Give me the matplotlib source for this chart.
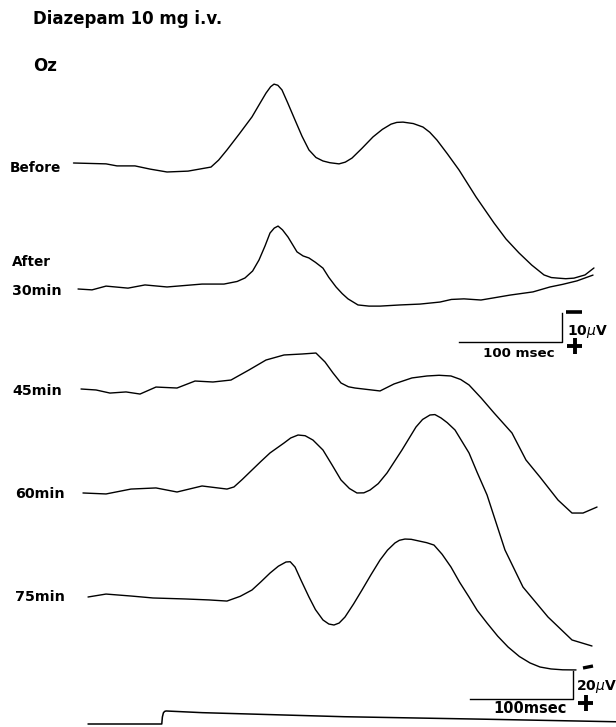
import matplotlib
matplotlib.use("Agg")
import matplotlib.pyplot as plt
from matplotlib.lines import Line2D
import numpy as np

# ---------------- data (time in ms from stimulus onset, amplitude in µV, negative up) -------------
before_t = [-86.9, -55.3, -44.7, -27.2, -12.6, 3.9, 24.3, 46.6, 54.0, 62.1, 74.0, 86.4, 94.0, 100.0, 104.5,
            107.8, 111.5, 115.5, 121.0, 128.2, 135.0, 141.7, 148.5, 155.3, 162.0, 170.9, 177.0, 183.5, 193.0,
            203.9, 213.0, 221.4, 227.0, 233.0, 243.0, 252.4, 259.0, 266.0, 276.0, 287.4, 303.9, 321.4, 333.0,
            345.6, 358.0, 369.9, 377.0, 383.5, 391.0, 399.0, 409.7, 418.4]
before_uv = [0.0, 0.3, 1.0, 1.0, 2.1, 3.1, 2.8, 1.4, -1.0, -4.5, -10.0, -15.9, -20.5, -24.1, -26.3,
             -27.2, -26.8, -25.2, -20.8, -14.8, -9.2, -4.5, -1.9, -0.7, -0.1, 0.3, -0.3, -1.7, -5.0,
             -9.0, -11.6, -13.4, -14.0, -14.1, -13.6, -12.4, -10.6, -7.9, -3.2, 2.4, 11.7, 20.7, 26.2,
             31.0, 35.2, 38.6, 39.5, 39.7, 39.9, 39.7, 38.6, 36.2]

after30_t = [-82.5, -68.9, -55.3, -34.0, -17.5, 3.9, 37.9, 59.2, 72.0, 79.6, 87.0, 93.2, 99.0, 103.9, 108.0,
             111.7, 116.0, 121.4, 130.1, 136.0, 141.7, 148.0, 155.3, 161.0, 168.0, 174.0, 179.6, 189.3, 200.0,
             210.7, 230.1, 249.5, 268.9, 280.0, 292.2, 308.7, 320.4, 336.9, 359.2, 375.7, 388.0, 401.9, 417.5]
after30_uv = [0.0, 0.3, -1.0, -0.3, -1.4, -0.7, -1.7, -1.7, -2.6, -3.8, -6.2, -10.0, -14.8, -19.3, -21.0,
              -21.7, -20.4, -17.9, -12.8, -11.4, -10.7, -9.2, -7.2, -4.0, -0.7, 1.6, 3.4, 5.5, 5.9,
              5.9, 5.5, 5.2, 4.5, 3.6, 3.4, 3.8, 3.1, 2.1, 1.0, -0.7, -1.6, -2.8, -4.8]

min45_t = [-79.6, -65.0, -51.5, -35.9, -22.3, -6.8, 13.6, 31.1, 48.5, 66.0, 83.5, 100.0, 117.5, 135.0,
           148.5, 157.3, 165.0, 172.8, 180.0, 186.4, 210.7, 224.3, 241.7, 256.3, 268.0, 279.6, 289.0, 297.1,
           309.0, 321.4, 338.8, 352.4, 366.0, 383.5, 397.1, 407.8, 421.4]
min45_uv = [0.0, 0.7, 2.9, 2.1, 3.6, -1.4, -0.7, -5.7, -5.0, -6.4, -13.6, -20.7, -24.3, -25.0,
            -25.7, -19.3, -11.5, -4.3, -1.6, -0.7, 1.4, -3.6, -7.9, -9.3, -9.8, -9.3, -6.8, -2.9,
            6.5, 17.1, 31.4, 50.7, 62.9, 79.3, 88.6, 88.6, 84.3]

min60_t = [-77.7, -55.3, -31.1, -6.8, 13.6, 37.9, 62.1, 68.9, 77.0, 86.4, 95.0, 103.9, 117.5, 124.0,
           131.1, 138.0, 145.6, 155.3, 164.0, 172.8, 181.0, 188.3, 195.0, 201.0, 209.0, 217.5, 232.0,
           245.6, 252.0, 259.2, 264.0, 269.9, 276.0, 283.5, 297.1, 305.0, 314.6, 332.0, 349.5, 373.8,
           397.1, 416.5]
min60_uv = [0.7, 1.4, -2.1, -2.9, 0.0, -4.3, -2.1, -3.6, -9.0, -15.7, -21.8, -27.9, -35.0, -38.6,
            -40.7, -40.2, -37.1, -30.0, -19.5, -8.6, -2.5, 0.7, 0.6, -1.4, -6.0, -13.6, -30.0,
            -46.4, -51.8, -55.0, -55.3, -52.9, -49.5, -44.3, -27.9, -14.0, 2.1, 41.4, 67.9, 89.3,
            105.7, 110.0]

min75_t = [-72.8, -55.3, -31.1, -9.7, 21.4, 44.7, 62.1, 75.0, 86.4, 95.0, 103.9, 112.0, 119.4, 123.5,
           128.2, 134.0, 141.7, 148.0, 155.3, 161.0, 166.0, 171.0, 176.7, 185.0, 193.2, 202.0, 210.7,
           218.0, 225.2, 229.5, 234.9, 241.0, 248.5, 256.0, 263.1, 271.0, 279.6, 288.0, 297.1, 305.0,
           314.6, 325.0, 335.0, 346.0, 356.3, 366.0, 376.7, 388.0, 401.0]
min75_uv = [0.0, -2.1, -0.7, 0.7, 1.4, 2.1, 2.9, -0.5, -5.0, -10.8, -17.1, -22.0, -25.0, -25.2,
            -21.4, -12.0, 0.0, 9.0, 16.4, 19.3, 20.0, 18.6, 14.3, 5.0, -5.0, -16.0, -26.4,
            -33.5, -38.6, -40.5, -41.4, -41.2, -40.0, -38.8, -37.1, -30.5, -21.4, -10.5, 0.0, 9.5,
            18.6, 28.0, 35.7, 42.5, 47.1, 50.0, 51.4, 52.0, 52.1]

stim_t = [-72.8, -1.2, -0.6, 0.4, 1.6, 3.0, 38.0, 176.0, 314.0, 439.8]
stim_uv = [0.0, 0.0, -5.0, -8.0, -9.0, -9.3, -8.1, -5.2, -3.4, -1.6]

trace_labels = ["Before", "30min", "45min", "60min", "75min"]
title_text = "Diazepam 10 mg i.v."
site_text = "Oz"

# ---------------- layout ----------------
W, H = 616, 727
MS_PX = 1.03      # pixels per ms
ONSET_X = 163     # pixel column of stimulus onset
GAIN_A = 2.9      # pixels per µV (10 µV calibration)
GAIN_B = 1.4      # pixels per µV (20 µV calibration)

fig = plt.figure(figsize=(W / 100, H / 100), dpi=100)
fig.patch.set_facecolor("white")


def make_ax(gain):
    ax = fig.add_axes([0, 0, 1, 1])
    ax.set_xlim(-ONSET_X / MS_PX, (W - ONSET_X) / MS_PX)
    ax.set_ylim(H / gain, 0)
    ax.axis("off")
    ax.patch.set_visible(False)
    return ax


ax_a = make_ax(GAIN_A)
ax_b = make_ax(GAIN_B)

LW = 1.0
col = "black"


def draw(ax, t, v, row, gain, lw=LW):
    ax.plot(t, np.asarray(v) + row / gain, color=col, lw=lw, solid_capstyle="round",
            solid_joinstyle="round")


draw(ax_a, before_t, before_uv, 163, GAIN_A)
draw(ax_a, after30_t, after30_uv, 289, GAIN_A)
draw(ax_b, min45_t, min45_uv, 389, GAIN_B)
draw(ax_b, min60_t, min60_uv, 492, GAIN_B)
draw(ax_b, min75_t, min75_uv, 597, GAIN_B)
draw(ax_b, stim_t, stim_uv, 724, GAIN_B, lw=1.1)

# calibration bars
cx_a = (562 - ONSET_X) / MS_PX
cy_a = 342 / GAIN_A
ax_a.plot([cx_a - 100, cx_a, cx_a], [cy_a, cy_a, cy_a - 10], color=col, lw=1.0)
cx_b = (573 - ONSET_X) / MS_PX
cy_b = 699 / GAIN_B
ax_b.plot([cx_b - 100, cx_b, cx_b], [cy_b, cy_b, cy_b - 20], color=col, lw=1.0)


def fx(x):
    return x / W


def fy(y):
    return 1 - y / H


def seg(x0, y0, x1, y1, lw):
    fig.add_artist(Line2D([fx(x0), fx(x1)], [fy(y0), fy(y1)], transform=fig.transFigure,
                          color=col, lw=lw, solid_capstyle="butt"))


# polarity signs
seg(566, 312, 582, 312, 2.6)          # top minus
seg(567, 346, 582, 346, 2.8)          # top plus
seg(574.5, 338, 574.5, 354, 2.8)
seg(583, 668, 593, 666, 2.4)          # bottom minus (partly on trace)
seg(578, 703, 593, 703, 2.8)          # bottom plus
seg(585.5, 695, 585.5, 711, 2.8)

FONT = "DejaVu Sans"
plt.rcParams["mathtext.fontset"] = "dejavusans"

fig.text(fx(33), fy(24), title_text, fontsize=12, fontweight="bold", family=FONT, va="baseline")
fig.text(fx(33), fy(71), site_text, fontsize=12, fontweight="bold", family=FONT, va="baseline")

fig.text(fx(10), fy(172), trace_labels[0], fontsize=9.8, fontweight="bold", family=FONT, va="baseline")
fig.text(fx(12), fy(266), "After", fontsize=9.8, fontweight="bold", family=FONT, va="baseline")
fig.text(fx(12), fy(295), trace_labels[1], fontsize=10.3, fontweight="bold", family=FONT, va="baseline")
fig.text(fx(12), fy(395), trace_labels[2], fontsize=10.3, fontweight="bold", family=FONT, va="baseline")
fig.text(fx(15), fy(498), trace_labels[3], fontsize=10.3, fontweight="bold", family=FONT, va="baseline")
fig.text(fx(15), fy(601), trace_labels[4], fontsize=10.3, fontweight="bold", family=FONT, va="baseline")

fig.text(fx(567), fy(335), r"10$\mu$V", fontsize=10, fontweight="bold", family=FONT, va="baseline")
fig.text(fx(483), fy(357), "100 msec", fontsize=9.6, fontweight="bold", family=FONT, va="baseline")
fig.text(fx(576), fy(690), r"20$\mu$V", fontsize=10, fontweight="bold", family=FONT, va="baseline")
fig.text(fx(493), fy(713), "100msec", fontsize=10.5, fontweight="bold", family=FONT, va="baseline")

fig.savefig("out.png", dpi=100, facecolor="white")
